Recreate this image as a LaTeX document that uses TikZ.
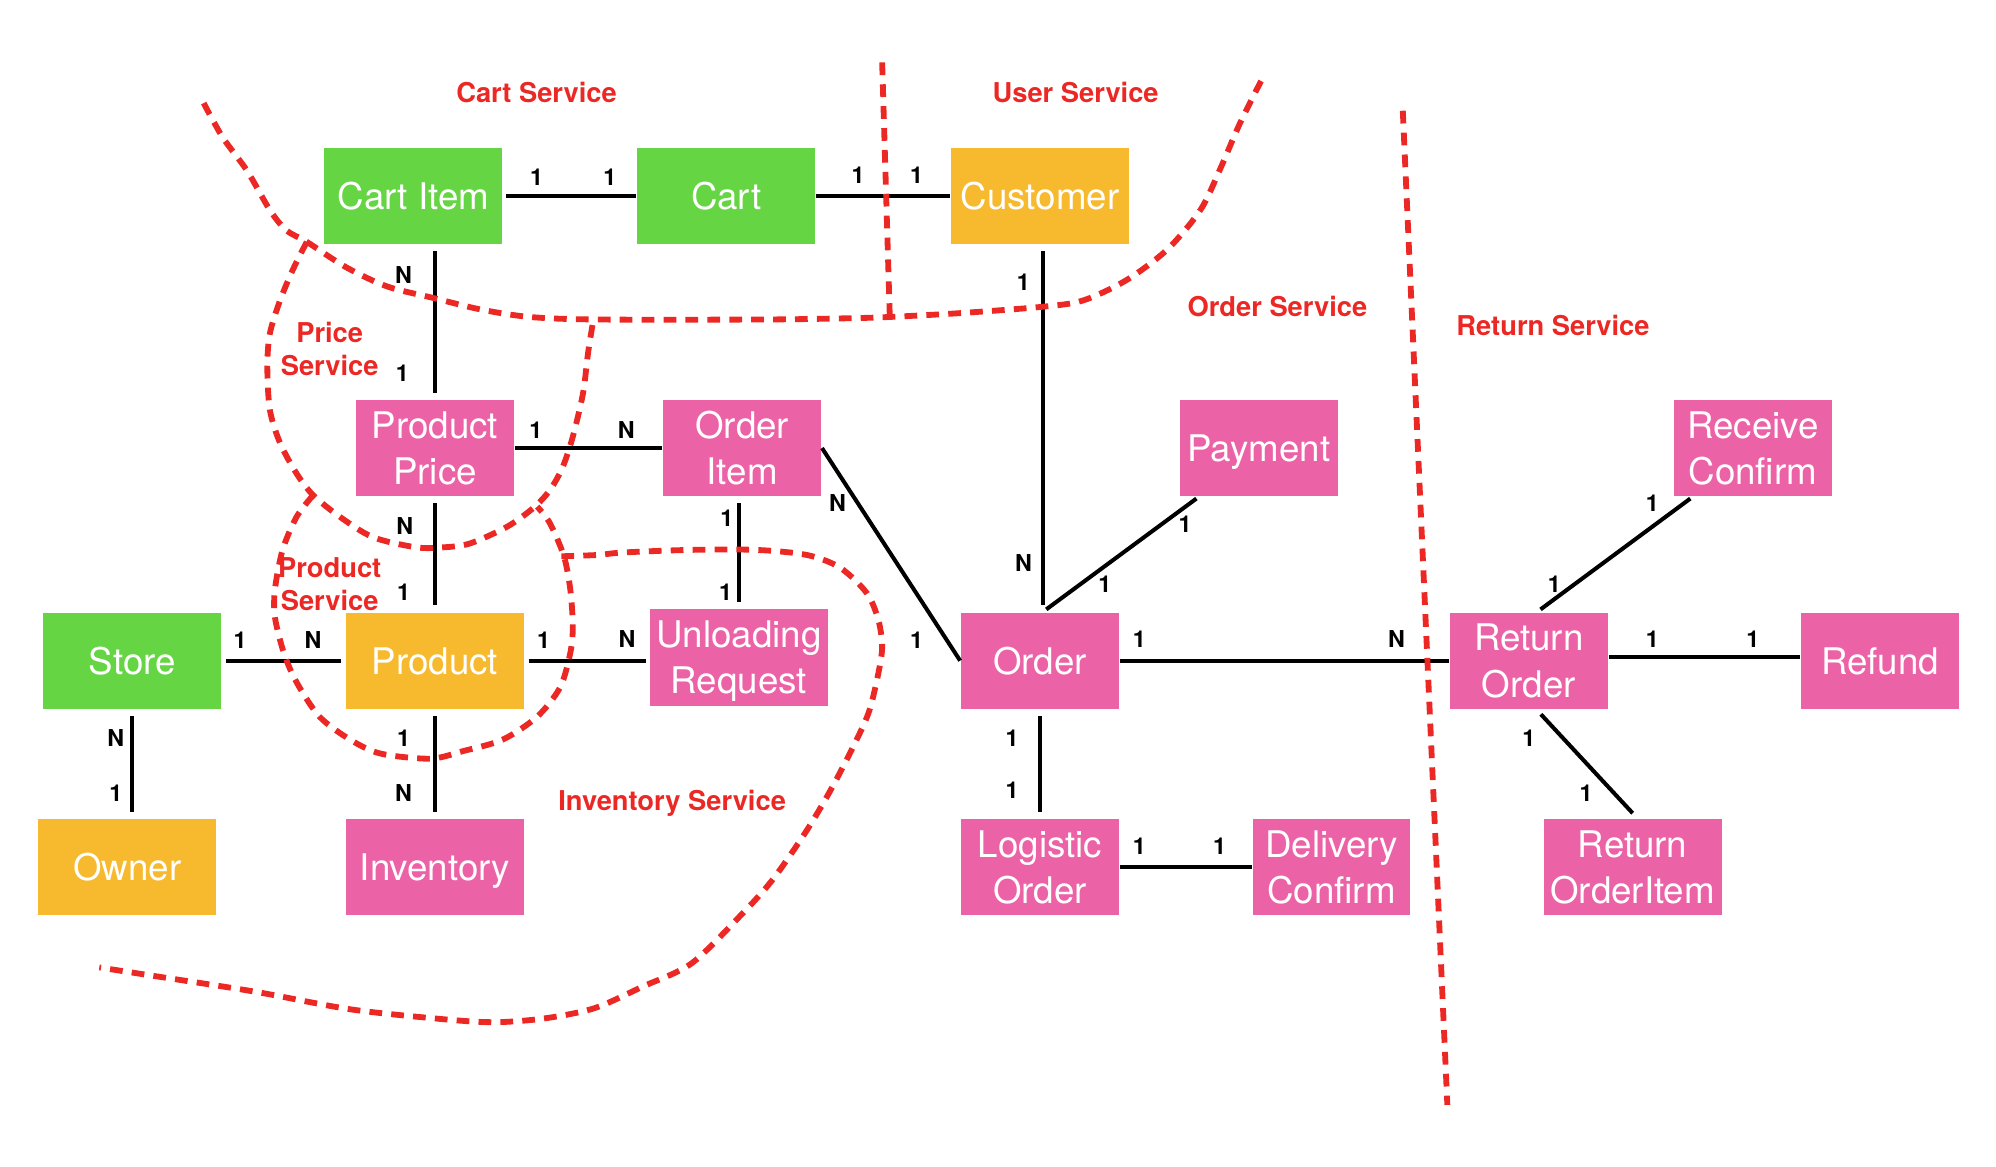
\documentclass[tikz,border=0pt]{standalone}
\usepackage{fontspec}
\setmainfont{TeX Gyre Heros}
\definecolor{boxgreen}{RGB}{102,213,68}
\definecolor{boxorange}{RGB}{247,185,45}
\definecolor{boxpink}{RGB}{236,98,166}
\definecolor{svcred}{RGB}{235,40,36}

\begin{document}
\begin{tikzpicture}[x=0.01cm,y=-0.01cm,
    entity/.style={rectangle,minimum width=1.24cm,minimum height=0.755cm,inner sep=0pt,
      text depth=0pt,align=center,text=white,font=\fontsize{8.2}{10.3}\selectfont},
    wide/.style={minimum width=1.398cm},
    gbox/.style={entity,fill=boxgreen},
    obox/.style={entity,fill=boxorange},
    pbox/.style={entity,fill=boxpink},
    rel/.style={line width=0.9pt},
    gap/.style={shorten <=0.05cm,shorten >=0.05cm},
    card/.style={inner sep=0pt,font=\bfseries\fontsize{5.2}{6}\selectfont},
    svc/.style={inner sep=0pt,align=center,text=svcred,font=\bfseries\fontsize{6.1}{7.4}\selectfont},
    border/.style={svcred,line width=1.3pt,dash pattern=on 0.1cm off 0.072cm}]
  \useasboundingbox (0,0) rectangle (1568,916);

  \node[gbox,wide] (ci) at (324.7,154) {Cart Item};
  \node[gbox,wide] (cart) at (570.5,154) {Cart};
  \node[obox,wide] (cust) at (817,154) {Customer};
  \node[pbox] (pp) at (341.7,352) {Product\\Price};
  \node[pbox] (oi) at (583,352) {Order\\Item};
  \node[pbox] (pay) at (989,352) {Payment};
  \node[pbox] (rc) at (1377,352) {Receive\\Confirm};
  \node[gbox,wide] (store) at (104,519) {Store};
  \node[obox,wide] (prod) at (341.7,519) {Product};
  \node[pbox,wide] (ur) at (580.5,516.5) {Unloading\\Request};
  \node[pbox] (order) at (817,519) {Order};
  \node[pbox] (ret) at (1201,519) {Return\\Order};
  \node[pbox] (refund) at (1477,519) {Refund};
  \node[obox,wide] (owner) at (100,681) {Owner};
  \node[pbox,wide] (inv) at (341.7,681) {Inventory};
  \node[pbox] (log) at (817,681) {Logistic\\Order};
  \node[pbox] (dc) at (1046,681) {Delivery\\Confirm};
  \node[pbox,wide] (ritem) at (1282.5,681) {Return\\OrderItem};

  \draw[rel,shorten <=0.025cm] (ci) -- (cart);
  \draw[rel] (cart) -- (cust);
  \draw[rel,gap] (ci.south -| pp) -- (pp);
  \draw[rel] (pp) -- (oi);
  \draw[rel,gap] (pp) -- (prod);
  \draw[rel,shorten <=0.03cm,shorten >=0.03cm] (store) -- (prod);
  \draw[rel,shorten <=0.03cm,shorten >=0.02cm] (prod) -- (prod -| ur.west);
  \draw[rel,gap] (prod) -- (inv);
  \draw[rel,gap] (store) -- (store |- owner.north);
  \draw[rel,gap] (oi.south -| ur) -- (ur);
  \draw[rel] (oi.east) -- (order.west);
  \draw[rel,gap] (cust.south -| 819.5,0) -- (order.north -| 819.5,0);
  \draw[rel,shorten <=0.02cm,shorten >=0.03cm] (pay.219) -- (order.north -| 819.5,0);
  \draw[rel] (order) -- (ret);
  \draw[rel,gap] (order) -- (log);
  \draw[rel] (log) -- (dc);
  \draw[rel,shorten <=0.02cm,shorten >=0.03cm] (rc.219) -- (ret.80);
  \draw[rel] (ret.east |- 0,516) -- (refund.west |- 0,516);
  \draw[rel,gap] (ret.-81) -- (ritem.north -| 1286,0);

  \node[card] (c1) at (421.5,139) {1};
  \node[card] (c2) at (479,139) {1};
  \node[card] (c3) at (674,138) {1};
  \node[card] (c4) at (720,138) {1};
  \node[card] (c5) at (317,216) {N};
  \node[card] (c6) at (316,293) {1};
  \node[card] (c7) at (804,222) {1};
  \node[card] (c8) at (804,442) {N};
  \node[card] (c9) at (421,338) {1};
  \node[card] (c10) at (492,338) {N};
  \node[card] (c11) at (658,395) {N};
  \node[card] (c12) at (720,503) {1};
  \node[card] (c13) at (571,407) {1};
  \node[card] (c14) at (570,465) {1};
  \node[card] (c15) at (318,413) {N};
  \node[card] (c16) at (317,465) {1};
  \node[card] (c17) at (188.6,503) {1};
  \node[card] (c18) at (246,503) {N};
  \node[card] (c19) at (427,503) {1};
  \node[card] (c20) at (492.5,502) {N};
  \node[card] (c21) at (91,580) {N};
  \node[card] (c22) at (91,623) {1};
  \node[card] (c23) at (317,580) {1};
  \node[card] (c24) at (317,623) {N};
  \node[card] (c25) at (931,412) {1};
  \node[card] (c26) at (868,459) {1};
  \node[card] (c27) at (895,502) {1};
  \node[card] (c28) at (1097,502) {N};
  \node[card] (c29) at (795,580) {1};
  \node[card] (c30) at (795,621) {1};
  \node[card] (c31) at (895,665) {1};
  \node[card] (c32) at (958,665) {1};
  \node[card] (c33) at (1298,395) {1};
  \node[card] (c34) at (1221,459) {1};
  \node[card] (c35) at (1298,502) {1};
  \node[card] (c36) at (1377,502) {1};
  \node[card] (c37) at (1201,580) {1};
  \node[card] (c38) at (1246,623) {1};

  \node[svc] (cartsvc) at (421.5,73) {Cart Service};
  \node[svc] (usersvc) at (845,73) {User Service};
  \node[svc] (ordersvc) at (1003.5,241) {Order Service};
  \node[svc] (retsvc) at (1220,256) {Return Service};
  \node[svc] (pricesvc) at (259,274) {Price\\Service};
  \node[svc] (prodsvc) at (259,459) {Product\\Service};
  \node[svc] (invsvc) at (528,631) {Inventory Service};

  \draw[border] plot[smooth,tension=0.5] coordinates {(160,81) (175,108) (194,134) (212,165)
    (225,181) (241,190) (272,210) (304,225) (340,234) (377,243) (416,249) (469,251)
    (600,251) (668,250) (699,249) (754,246) (819,241) (851,236) (885,220) (917,196)
    (943,165) (958,134) (974,97) (991,63)};
  \draw[border] (693,49) -- (699,249);
  \draw[border] plot[smooth,tension=0.5] coordinates {(241,190) (230,212) (220,236) (212,262)
    (210,288) (212,322) (220,348) (233,372) (246,389) (267,406) (293,422) (327,430)
    (348,430) (369,427) (398,414) (419,399) (432,385) (442,367) (450,343) (458,309)
    (462,277) (466,252)};
  \draw[border] plot[smooth,tension=0.5] coordinates {(246,389) (233,406) (222,432) (216,463)
    (216,485) (223,513) (233,536) (251,563) (275,581) (299,592) (338,596) (364,590)
    (395,581) (422,563) (440,540) (448,513) (450,492) (448,463) (443,437) (432,411)
    (422,398)};
  \draw[border] plot[smooth,tension=0.5] coordinates {(441,437) (469,436) (490,434) (542,432)
    (594,432) (634,436) (660,446) (681,466) (690,487) (693,508) (690,529) (683,558)
    (673,581) (654,618) (634,652) (607,691) (581,720) (543,757) (505,775) (467,792)
    (428,800) (390,803) (352,801) (276,793) (200,779) (123,767) (78,760)};
  \draw[border] (1102,87) -- (1137,868);
\end{tikzpicture}
\end{document}
